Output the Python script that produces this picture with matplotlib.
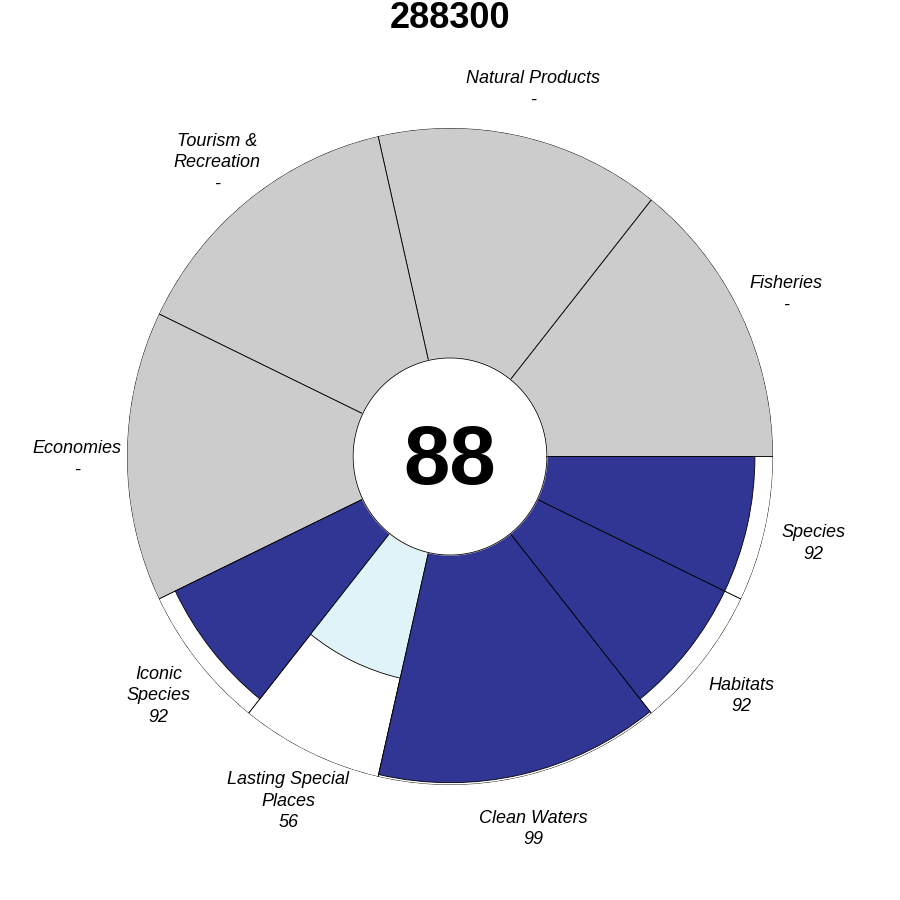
import numpy as np
import matplotlib
matplotlib.use("Agg")
import matplotlib.pyplot as plt

# goal data, counterclockwise from east
goals = ["Fisheries", "Natural Products", "Tourism &\nRecreation", "Economies",
         "Iconic\nSpecies", "Lasting Special\nPlaces", "Clean Waters", "Habitats", "Species"]
weights = [1, 1, 1, 1, 0.5, 0.5, 1, 0.5, 0.5]
scores = [None, None, None, None, 92, 56, 99, 92, 92]
index_score = 88
region_id = "288300"

plt.rcParams['font.family'] = ['Liberation Sans', 'DejaVu Sans']

fig = plt.figure(figsize=(9, 9), dpi=100)
ax = fig.add_axes([127 / 900, 115 / 900, 646 / 900, 657 / 900], projection='polar')
ax.set_aspect('auto')
ax.set_ylim(0, 1)
ax.set_axis_off()

r_in = 0.30
w = np.array(weights) / sum(weights) * 2 * np.pi
starts = np.concatenate([[0], np.cumsum(w)[:-1]])


def score_color(s):
    # simple RdYlBu-like lookup for the values present
    if s >= 80:
        return "#313695"
    return "#e0f3f8"


for th, wd, s, name in zip(starts, w, scores, goals):
    # full-length outline
    if s is None:
        ax.bar(th, 1, width=wd, bottom=0, align='edge', color="#cccccc",
               edgecolor="black", linewidth=0.6, zorder=1)
        lab = name + "\n-"
    else:
        ax.bar(th, 1, width=wd, bottom=0, align='edge', color="white",
               edgecolor="black", linewidth=0.6, zorder=1)
        h = r_in + (1 - r_in) * s / 100
        ax.bar(th, h, width=wd, bottom=0, align='edge', color=score_color(s),
               edgecolor="black", linewidth=0.6, zorder=2)
        lab = name + "\n" + str(s)
    ax.annotate(lab, (th + wd / 2, 1.155), xytext=(0, -2), textcoords='offset points',
                ha='center', va='center', fontsize=13, style='italic',
                linespacing=1.35, zorder=5, annotation_clip=False)

# center disc
t = np.linspace(0, 2 * np.pi, 400)
ax.fill(t, np.full_like(t, r_in), color="white", zorder=3)
ax.plot(t, np.full_like(t, r_in), color="black", linewidth=0.6, zorder=4)
ax.annotate(str(index_score), (0, 0), xytext=(0, -4), textcoords='offset points',
            ha='center', va='center', fontsize=60, fontweight='bold', zorder=6)

fig.text(0.5, 1 - 19 / 900, region_id, ha='center', va='center', fontsize=26,
         fontweight='bold')

fig.savefig("out.png", dpi=100)
